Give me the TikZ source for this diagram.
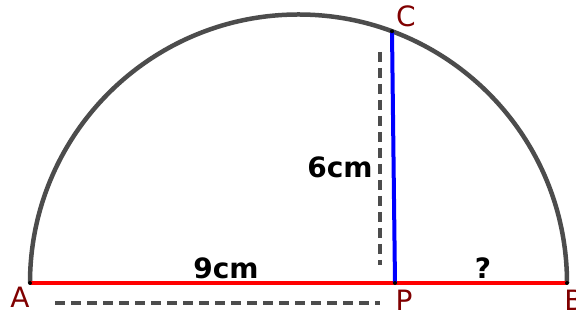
\documentclass[tikz,border=0pt]{standalone}
\usepackage{fontspec}
\setmainfont{DejaVu Sans}
\usetikzlibrary{positioning}

\begin{document}
\begin{tikzpicture}[x=1pt,y=1pt,
 pt/.style={circle,fill=black,inner sep=0pt,minimum size=4pt},
 lbl/.style={text=red!50!black,font=\fontsize{28}{28}\selectfont,inner sep=0pt},
 len/.style={font=\bfseries\fontsize{28}{28}\selectfont,inner sep=0pt},
 dsh/.style={draw=black!70,line width=4.5pt,dash pattern=on 10pt off 6pt}]
\useasboundingbox (0,0) rectangle (576,320);
\coordinate (O) at (298.5,37);
\coordinate (A) at (30,37);
\coordinate (B) at (567,37);
\coordinate (P) at (395,37);
\coordinate (C) at (392,288.7);
\coordinate (v1) at (380,268);\coordinate (v2) at (380,55);
\coordinate (h1) at (55,17);\coordinate (h2) at (380,17);
% semicircle
\draw[black!70,line width=4.5pt] (A) arc[start angle=180,end angle=0,radius=268.5];
\draw[red,line width=4.5pt] (A)--(B);
\draw[blue,line width=4pt] (P)--(C);
\draw[dsh] (v1)--(v2);
\draw[dsh] (h1)--(h2);
\node[pt] at (A) {};\node[pt] at (B) {};\node[pt] at (P) {};\node[pt] at (C) {};
\node[lbl] (la) at (20,23) {A};
\node[lbl] (lb) at (574,20) {B};
\node[lbl] (lp) at (404,20) {P};
\node[lbl] (lc) at (406,304) {C};
\node[len] (nine) at (226,52) {9cm};
\node[len] (six) at (340,153) {6cm};
\node[len] (q) at (483,52) {?};
\end{tikzpicture}
\end{document}
